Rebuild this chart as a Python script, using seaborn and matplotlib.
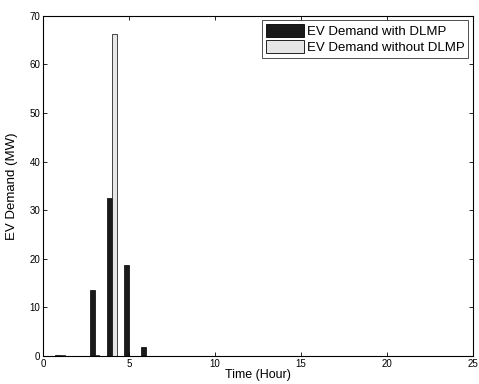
import numpy as np
import pandas as pd
import matplotlib
matplotlib.use("Agg")
import matplotlib.pyplot as plt
import seaborn as sns
from matplotlib.patches import Patch

hours = list(range(1, 25))
with_dlmp = [0.2, 0, 13.6, 32.4, 18.7, 1.9, 0, 0, 0, 0, 0, 0,
             0, 0, 0, 0, 0, 0, 0, 0, 0, 0, 0, 0]
without_dlmp = [0.2, 0, 0.2, 66.3, 0.1, 0, 0, 0, 0, 0, 0, 0,
                0, 0, 0, 0, 0, 0, 0, 0, 0, 0, 0, 0]
series_names = ["EV Demand with DLMP", "EV Demand without DLMP"]
series_colors = ["#1a1a1a", "#e6e6e6"]

df = pd.DataFrame({
    "Hour": hours * 2,
    "Demand": with_dlmp + without_dlmp,
    "Series": [series_names[0]] * len(hours) + [series_names[1]] * len(hours),
})

sns.set_style("white")
plt.rcParams["font.family"] = ["Liberation Sans", "DejaVu Sans"]
plt.rcParams["text.color"] = "black"
plt.rcParams["axes.labelcolor"] = "black"
plt.rcParams["xtick.color"] = "black"
plt.rcParams["ytick.color"] = "black"

fig = plt.figure(figsize=(4.79, 3.84), dpi=100)
ax = fig.add_axes([43 / 479, 1 - 356 / 384, 430 / 479, 340.3 / 384])

sns.barplot(data=df, x="Hour", y="Demand", hue="Series", native_scale=True,
            palette=series_colors, width=0.55, dodge=True, edgecolor="black",
            linewidth=0.5, errorbar=None, ax=ax, legend=False)

ax.set_xlim(0, 25)
ax.set_ylim(0, 70)
ax.set_xticks([0, 5, 10, 15, 20, 25])
ax.set_yticks(range(0, 71, 10))
ax.tick_params(direction="in", length=3, width=0.6, labelsize=7,
               top=True, right=True, bottom=True, left=True, pad=2)
for sp in ax.spines.values():
    sp.set_visible(True)
    sp.set_color("black")
    sp.set_linewidth(0.8)
ax.set_xlabel("Time (Hour)", fontsize=9, labelpad=0)
ax.set_ylabel("EV Demand (MW)", fontsize=9.5, labelpad=8)

handles = [Patch(facecolor=c, edgecolor="black", linewidth=0.6) for c in series_colors]
leg = ax.legend(handles, series_names, loc="upper right", fontsize=9.5,
                frameon=True, fancybox=False, edgecolor="black",
                borderpad=0.3, labelspacing=0.15, handlelength=2.9,
                handleheight=1.15, handletextpad=0.2, borderaxespad=0.35)
leg.get_frame().set_linewidth(0.6)

fig.savefig("out.png", dpi=100)
